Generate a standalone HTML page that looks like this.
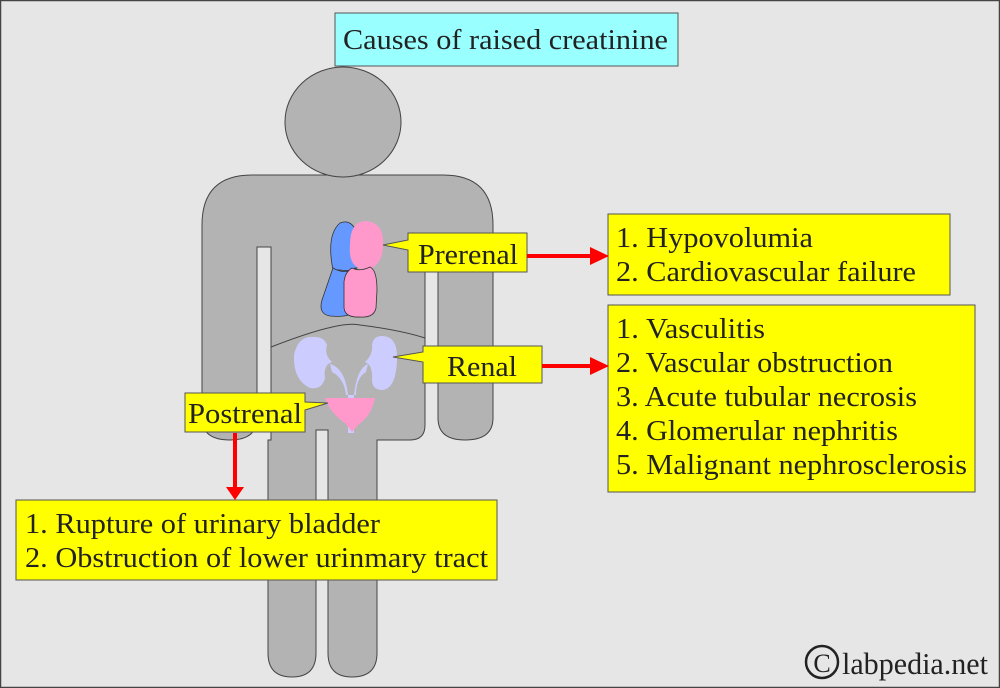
<!DOCTYPE html>
<html><head><style>
html,body{margin:0;padding:0;background:#e6e6e6}
svg{display:block}
</style></head><body>
<svg width="1000" height="688" viewBox="0 0 1000 688" xmlns="http://www.w3.org/2000/svg">
<rect x="0.5" y="0.5" width="999" height="687" fill="#e6e6e6" stroke="#444" stroke-width="1.5"/>
<g fill="#b3b3b3" stroke="#444" stroke-width="1">
<path d="M202 418 V225 Q202 175 252 175 H443 Q493 175 493 225 V418 Q493 440 465 440 Q438 440 438 418 V247 H425 V425 Q425 440 410 440 H377 V653 Q377 677 352 677 Q328 677 328 653 V430 H316 V653 Q316 677 292 677 Q268 677 268 653 V440 L271 440 V247 H257 V418 Q257 440 230 440 Q202 440 202 418 Z"/>
<ellipse cx="343" cy="122" rx="58" ry="55"/>
</g>
<path d="M271 347 Q340 320 360 325 Q400 330 425 338" fill="none" stroke="#444"/>
<path d="M333 270 Q326 235 340 223 Q352 218 358 235 L357 268 Q350 272 340 270 Z" fill="#6699ff" stroke="#333" stroke-width="0.8"/>
<path d="M333 268 Q345 275 355 268 L357 310 Q350 318 330 316 Q318 314 322 300 Z" fill="#6699ff" stroke="#333" stroke-width="0.8"/>
<path d="M365 221 Q385 222 383 248 Q381 268 365 270 Q348 268 350 245 Q350 222 365 221 Z" fill="#ff99cc"/>
<path d="M352 268 Q360 272 370 267 Q377 270 377 290 L376 308 Q374 318 360 317 Q343 318 344 305 L344 282 Q345 272 352 268 Z" fill="#ff99cc" stroke="#333" stroke-width="0.8"/>
<g fill="#ccccff">
<path d="M315 337 Q298 335 294 355 Q293 380 310 388 Q322 390 325 378 Q323 365 332 362 Q324 355 327 345 Q324 337 315 337 Z"/>
<path d="M382 336 Q398 336 397 360 Q396 388 383 390 Q372 390 372 380 Q373 365 365 362 Q373 355 372 345 Q373 336 382 336 Z"/>
<path d="M330 364 Q345 368 348 395 L354 395 Q357 368 368 364 L366 372 Q356 378 356 395 L346 395 Q344 378 332 372 Z"/>
<rect x="348" y="395" width="6" height="38"/>
</g>
<path d="M325 398 L375 398 Q372 415 358 425 L352 432 L346 424 Q330 413 325 398 Z" fill="#ff99cc"/>
<g fill="#ffff00" stroke="#555" stroke-width="1">
<rect x="335" y="13" width="343" height="53" fill="#99ffff"/>
<path d="M408 233 L527 233 L527 272 L408 272 L408 250 L383 245 L408 240 Z"/>
<path d="M423 346 L542 346 L542 383 L423 383 L423 362 L393 357 L423 352 Z"/>
<path d="M185 393 L305 393 L305 402 L328 403 L305 410 L305 432 L185 432 Z"/>
<rect x="608" y="214" width="342" height="81"/>
<rect x="608" y="305" width="367" height="187"/>
<rect x="16" y="500" width="481" height="80"/>
</g>
<g font-family="'Liberation Serif', 'DejaVu Serif', serif" fill="#222" font-size="28" lengthAdjust="spacingAndGlyphs">
<text x="343" y="49" textLength="325" lengthAdjust="spacingAndGlyphs">Causes of raised creatinine</text>
<text x="418" y="264" textLength="100" lengthAdjust="spacingAndGlyphs">Prerenal</text>
<text x="447" y="376" textLength="70" lengthAdjust="spacingAndGlyphs">Renal</text>
<text x="188" y="423" textLength="114" lengthAdjust="spacingAndGlyphs">Postrenal</text>
<text x="616" y="247" textLength="197" lengthAdjust="spacingAndGlyphs">1. Hypovolumia</text>
<text x="616" y="281" textLength="300" lengthAdjust="spacingAndGlyphs">2. Cardiovascular failure</text>
<text x="616" y="338" textLength="149" lengthAdjust="spacingAndGlyphs">1. Vasculitis</text>
<text x="616" y="372" textLength="277" lengthAdjust="spacingAndGlyphs">2. Vascular obstruction</text>
<text x="616" y="406" textLength="301" lengthAdjust="spacingAndGlyphs">3. Acute tubular necrosis</text>
<text x="616" y="440" textLength="282" lengthAdjust="spacingAndGlyphs">4. Glomerular nephritis</text>
<text x="616" y="474" textLength="351" lengthAdjust="spacingAndGlyphs">5. Malignant nephrosclerosis</text>
<text x="25" y="533" textLength="355" lengthAdjust="spacingAndGlyphs">1. Rupture of urinary bladder</text>
<text x="25" y="567" textLength="463" lengthAdjust="spacingAndGlyphs">2. Obstruction of lower urinmary tract</text>
<text x="822" y="672" font-size="26" text-anchor="middle">C</text>
<text x="842" y="674" font-size="31" textLength="146" lengthAdjust="spacingAndGlyphs">labpedia.net</text>
</g>
<circle cx="822" cy="662" r="16" fill="none" stroke="#222" stroke-width="2.5"/>
<g stroke="#ff0000" stroke-width="4">
<line x1="527" y1="256" x2="592" y2="256"/>
<line x1="542" y1="366" x2="592" y2="366"/>
<line x1="235" y1="433" x2="235" y2="488"/>
</g>
<g fill="#ff0000">
<path d="M609 256 L590 247 L590 265 Z"/>
<path d="M609 366 L590 357 L590 375 Z"/>
<path d="M235 500 L226 487 L244 487 Z"/>
</g>
</svg>
</body></html>
